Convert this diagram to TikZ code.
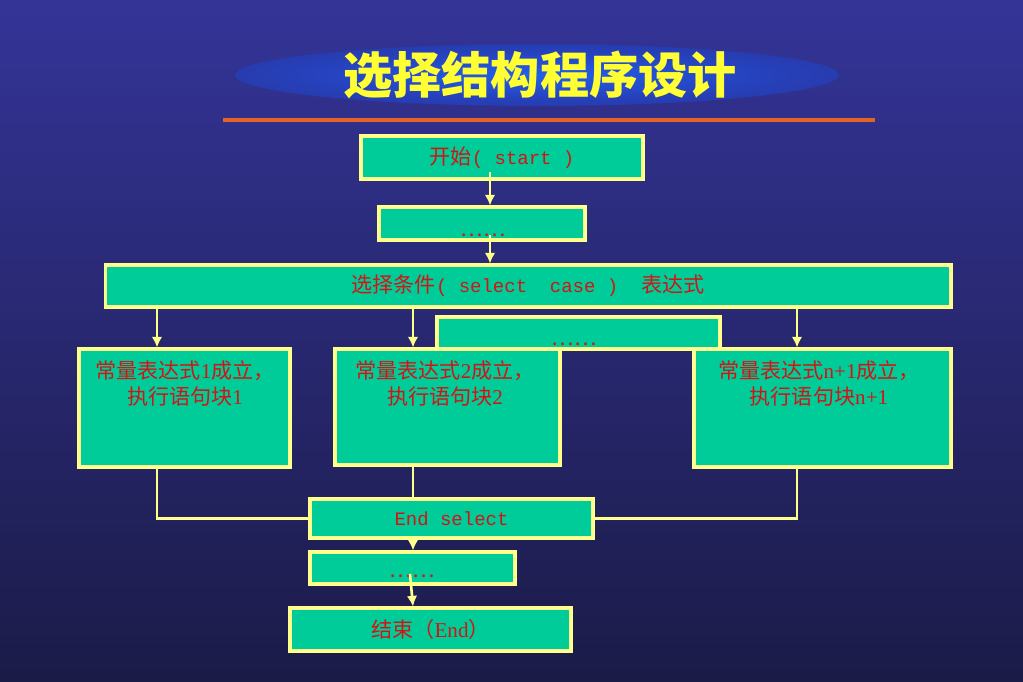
\documentclass[tikz,border=0pt]{standalone}
\usepackage{fontspec}
\setmainfont{Liberation Serif}
\newfontfamily\cjk{Noto Sans CJK SC}
\newfontfamily\mono[Scale=0.9]{Liberation Mono}
\usetikzlibrary{arrows.meta}
\definecolor{bgtop}{RGB}{52,52,152}
\definecolor{bgbot}{RGB}{27,27,72}
\definecolor{glowin}{RGB}{34,96,236}
\definecolor{glowmid}{RGB}{38,66,190}
\definecolor{glowout}{RGB}{42,42,132}
\definecolor{boxfill}{RGB}{0,204,153}
\definecolor{edge}{RGB}{255,255,140}
\definecolor{ink}{RGB}{210,20,20}
\definecolor{titleyellow}{RGB}{255,255,51}
\definecolor{rulecol}{RGB}{228,100,40}
\pgfdeclareradialshading{titleglow}{\pgfpoint{0bp}{0bp}}{color(0bp)=(glowin); color(18bp)=(glowmid); color(44bp)=(glowout); color(50bp)=(glowout)}
\begin{document}
\begin{tikzpicture}[x=0.02cm, y=-0.02cm,
  box/.style={draw=edge, fill=boxfill, line width=1.8pt, inner sep=0pt, text=ink, font=\fontsize{12}{15}\selectfont},
  txt/.style={text=ink, align=center, inner sep=0pt, font=\fontsize{12}{15.3}\selectfont},
  title/.style={text=titleyellow, inner sep=0pt, font=\fontsize{28}{30}\selectfont},
  link/.style={draw=edge, line width=1.5pt},
  arr/.style={link, -{Latex[length=6pt,width=6pt]}}]
  \useasboundingbox (0,0) rectangle (1023,682);
  \shade[top color=bgtop, bottom color=bgbot] (0,0) rectangle (1023,682);
  \shade[shading=titleglow] (537,75) ellipse [x radius=6.04cm, y radius=0.62cm];
  \node[title] (ttl) at (540,75) {\cjk\bfseries 选择结构程序设计};
  \draw[rulecol, line width=1.8pt] (223,120) -- (875,120);

  \node[box, minimum width=5.64cm, minimum height=0.86cm] (start) at (502,157.5) {\cjk 开始{\mono( start )}};
  \node[box, minimum width=4.12cm, minimum height=0.66cm] (dots1) at (482,223.5) {};
  \node[txt] (d1) at (483,235) {\cjk ……};
  \node[box, minimum width=16.92cm, minimum height=0.84cm] (select) at (528,286) {\cjk 选择条件{\mono( select\ \ case )\ \ }表达式};
  \node[box, minimum width=5.66cm, minimum height=0.64cm] (dots2) at (578.5,333) {};
  \node[txt] (d2) at (574,344) {\cjk ……};
  \node[box, minimum width=4.22cm, minimum height=2.36cm] (box1) at (184.5,408) {};
  \node[txt] (t1) at (185,383.5) {\cjk 常量表达式{\rmfamily 1}成立，\\\cjk 执行语句块{\rmfamily 1}};
  \node[box, minimum width=4.5cm, minimum height=2.32cm] (box2) at (447.5,407) {};
  \node[txt] (t2) at (445,383.5) {\cjk 常量表达式{\rmfamily 2}成立，\\\cjk 执行语句块{\rmfamily 2}};
  \node[box, minimum width=5.14cm, minimum height=2.36cm] (box3) at (822.5,408) {};
  \node[txt] (t3) at (819,383.5) {\cjk 常量表达式{\rmfamily n+1}成立，\\\cjk 执行语句块{\rmfamily n+1}};
  \node[box, minimum width=5.66cm, minimum height=0.78cm] (endsel) at (451.5,518.5) {\mono End select};
  \node[box, minimum width=4.1cm, minimum height=0.64cm] (dots3) at (412.5,568) {};
  \node[txt] (d3) at (412,576) {\cjk ……};
  \node[box, minimum width=5.62cm, minimum height=0.86cm] (endbox) at (430.5,629.5) {\cjk 结束（{\rmfamily End}）};

  \coordinate (a0) at (490,0);
  \coordinate (a1) at (157,0);
  \coordinate (a2) at (413,0);
  \coordinate (a3) at (797,0);
  \coordinate (a4) at (410,574);
  \draw[arr, shorten <=-5pt] (a0 |- start.south) -- (a0 |- dots1.north);
  \draw[arr, shorten <=-4pt] (a0 |- dots1.south) -- (a0 |- select.north);
  \foreach \c/\b in {a1/box1, a2/box2, a3/box3}
    \draw[arr] (\c |- select.south) -- (\c |- \b.north);
  \draw[link] (a1 |- box1.south) |- (endsel.west);
  \draw[link] (a2 |- box2.south) -- (a2 |- endsel.north);
  \draw[link] (a3 |- box3.south) |- (endsel.east);
  \draw[arr] (a2 |- endsel.south) -- (a2 |- dots3.north);
  \draw[arr] (a4) -- (a2 |- endbox.north);
\end{tikzpicture}
\end{document}
